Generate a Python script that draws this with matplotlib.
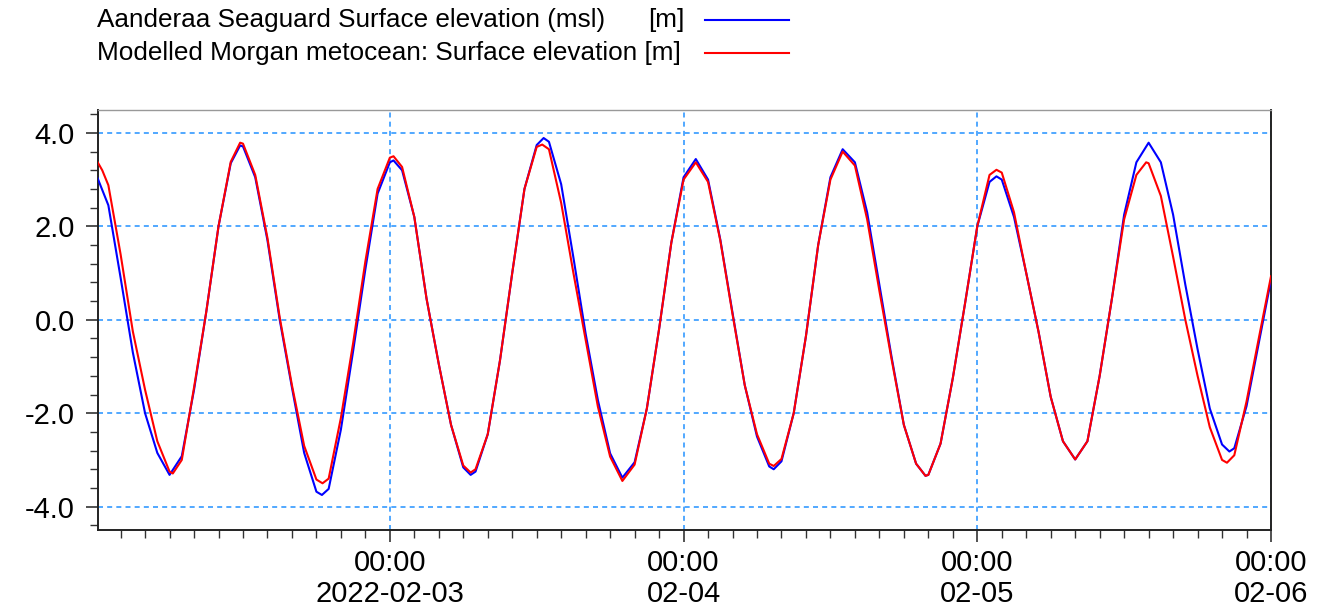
import matplotlib
matplotlib.use("Agg")
import matplotlib.pyplot as plt
import matplotlib.dates as mdates
import numpy as np
from matplotlib.lines import Line2D
from matplotlib.ticker import MultipleLocator, FormatStrFormatter, FuncFormatter

# --- DATA: water levels, hours after 2022-02-02 00:00 ---
start = np.datetime64("2022-02-02T00:00")

meas_hours = [0, 1, 2, 3, 4, 5, 6, 7, 8, 9, 10, 11, 11.77, 12, 13, 14, 15, 16, 17, 18,
              18.45, 19, 20, 21, 22, 23, 24, 24.3, 25, 26, 27, 28, 29, 30, 30.6, 31, 32,
              33, 34, 35, 36, 36.57, 37, 38, 39, 40, 41, 42, 43, 44, 45, 46, 47, 48, 49,
              50, 51, 52, 53, 54, 55, 55.37, 56, 57, 58, 59, 60, 61, 62, 63, 64, 65, 66,
              67, 67.76, 68, 69, 70, 71, 72, 73, 73.57, 74, 75, 76, 77, 78, 79, 80, 81,
              82, 83, 84, 85, 86, 87, 88, 89, 90, 91, 92, 92.6, 93, 94, 95, 96]
measured = [3.11, 2.45, 0.9, -0.7, -2.0, -2.85, -3.32, -2.92, -1.5, 0.17, 2.0, 3.35,
            3.73, 3.71, 3.05, 1.7, 0.0, -1.45, -2.85, -3.68, -3.75, -3.62, -2.35,
            -0.67, 1.08, 2.7, 3.37, 3.41, 3.2, 2.2, 0.45, -0.95, -2.25, -3.16, -3.32,
            -3.25, -2.45, -0.87, 1.0, 2.8, 3.74, 3.89, 3.81, 2.9, 1.33, -0.3, -1.72,
            -2.86, -3.38, -3.05, -1.9, -0.2, 1.65, 3.05, 3.44, 3.0, 1.72, 0.15, -1.4,
            -2.5, -3.14, -3.2, -3.03, -2.0, -0.35, 1.6, 3.05, 3.65, 3.37, 2.3, 0.75,
            -0.8, -2.25, -3.08, -3.34, -3.32, -2.65, -1.25, 0.35, 2.0, 2.95, 3.07, 3.0,
            2.2, 1.0, -0.25, -1.65, -2.6, -2.99, -2.6, -1.2, 0.45, 2.25, 3.37, 3.79,
            3.37, 2.25, 0.75, -0.63, -1.9, -2.67, -2.82, -2.75, -1.85, -0.5, 0.85]

model_hours = [0, 0.5, 1, 2, 3, 4, 5, 6, 6.26, 7, 8, 9, 10, 11, 11.77, 12, 13, 14, 15,
               16, 17, 18, 18.5, 19, 20, 21, 22, 23, 24, 24.3, 25, 26, 27, 28, 29, 30,
               30.6, 31, 32, 33, 34, 35, 36, 36.45, 37, 38, 39, 40, 41, 42, 43, 44, 45,
               46, 47, 48, 49, 50, 51, 52, 53, 54, 55, 55.37, 56, 57, 58, 59, 60, 61, 62,
               63, 64, 65, 66, 67, 67.76, 68, 69, 70, 71, 72, 73, 73.57, 74, 75, 76, 77,
               78, 79, 80, 81, 82, 83, 84, 85, 85.8, 86, 87, 88, 89, 90, 91, 92, 92.4,
               93, 94, 95, 96]
modelled = [3.43, 3.2, 2.88, 1.4, -0.25, -1.5, -2.6, -3.25, -3.29, -3.0, -1.45, 0.17,
            2.0, 3.38, 3.79, 3.77, 3.1, 1.75, 0.05, -1.4, -2.7, -3.42, -3.5, -3.4, -2.1,
            -0.5, 1.25, 2.8, 3.47, 3.5, 3.27, 2.2, 0.45, -0.95, -2.25, -3.12, -3.27,
            -3.2, -2.45, -0.87, 1.0, 2.8, 3.7, 3.75, 3.65, 2.5, 1.0, -0.43, -1.86, -2.93,
            -3.45, -3.1, -1.9, -0.2, 1.65, 3.0, 3.37, 2.95, 1.7, 0.12, -1.4, -2.45, -3.08,
            -3.13, -2.98, -2.0, -0.35, 1.6, 3.0, 3.6, 3.3, 2.15, 0.62, -0.85, -2.25,
            -3.08, -3.34, -3.32, -2.65, -1.25, 0.35, 2.0, 3.1, 3.21, 3.15, 2.3, 1.0,
            -0.25, -1.65, -2.6, -2.99, -2.6, -1.2, 0.45, 2.15, 3.1, 3.37, 3.35, 2.65,
            1.35, 0.0, -1.2, -2.3, -3.0, -3.06, -2.9, -1.75, -0.4, 0.93]

labels = ["Aanderaa Seaguard Surface elevation (msl)", "Modelled Morgan metocean: Surface elevation [m]"]
units = ["[m]", ""]
colors = ["#0000FF", "#FF0000"]


def to_times(h):
    return start + (np.array(h) * 60).round().astype("timedelta64[m]")


plt.rcParams['font.family'] = ['Liberation Sans', 'DejaVu Sans']
plt.rcParams['axes.unicode_minus'] = False

fig = plt.figure(figsize=(13.41, 6.16), dpi=100)
ax = fig.add_axes([0.0729, 0.1396, 0.8749, 0.6826])

for h, vals, c in zip([meas_hours, model_hours], [measured, modelled], colors):
    ax.plot(to_times(h), vals, color=c, linewidth=1.5, zorder=3)

ax.set_xlim(np.datetime64("2022-02-02T00:08"), np.datetime64("2022-02-06T00:00"))
ax.set_ylim(-4.5, 4.5)

ax.yaxis.set_major_locator(MultipleLocator(2.0))
ax.yaxis.set_minor_locator(MultipleLocator(0.4))
ax.yaxis.set_major_formatter(FormatStrFormatter("%.1f"))

ax.xaxis.set_major_locator(mdates.DayLocator())
ax.xaxis.set_minor_locator(mdates.HourLocator(byhour=range(0, 24, 2)))


def date_label(x, pos):
    d = mdates.num2date(x)
    if pos == 0:
        return d.strftime("%H:%M\n%Y-%m-%d")
    return d.strftime("%H:%M\n%m-%d")


ax.xaxis.set_major_formatter(FuncFormatter(date_label))

ax.grid(True, which="major", color="#3399FF", linestyle=(0, (3, 2.5)), linewidth=1.2)
ax.tick_params(which="major", direction="out", length=8.6, width=1.2, labelsize=21,
               color="#333333")
ax.tick_params(which="minor", direction="out", length=5.5, width=1.0, color="#333333")
ax.tick_params(axis="y", which="major", pad=8)
ax.tick_params(axis="x", which="major", pad=5)
for lab in ax.get_xticklabels():
    lab.set_linespacing(1.15)

for s in ["left", "bottom", "right"]:
    ax.spines[s].set_color("#222222")
    ax.spines[s].set_linewidth(1.4)
ax.spines["top"].set_color("#999999")
ax.spines["top"].set_linewidth(1.0)

# --- legend across the top, text first then line sample ---
row_y = [1 - 20 / 616, 1 - 53 / 616]
for lab, unit, c, y in zip(labels, units, colors, row_y):
    fig.text(97 / 1341, y, lab, fontsize=18.8, va="center", ha="left")
    if unit:
        fig.text(684 / 1341, y, unit, fontsize=18.8, va="center", ha="right")
    fig.add_artist(Line2D([705 / 1341, 789 / 1341], [y, y], color=c, linewidth=1.5,
                          transform=fig.transFigure))

fig.savefig("out.png", dpi=100)
